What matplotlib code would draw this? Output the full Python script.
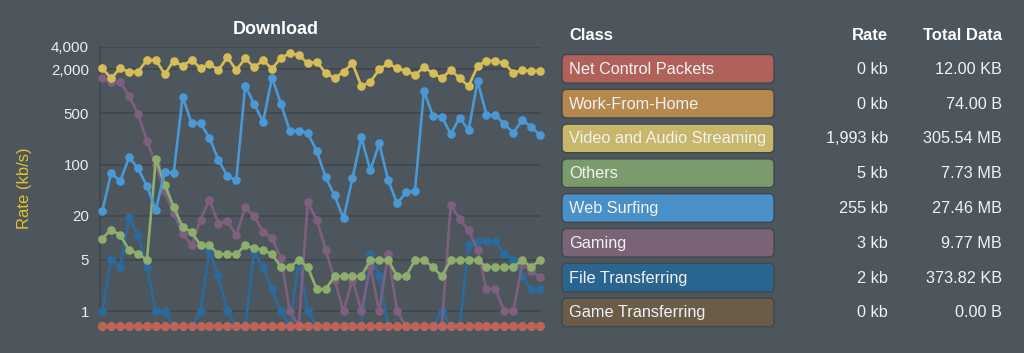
import matplotlib
matplotlib.use("Agg")
import matplotlib.pyplot as plt
from matplotlib.patches import FancyBboxPatch
import numpy as np

plt.rcParams['font.family'] = ['Liberation Sans', 'DejaVu Sans']

# ---------------- data ----------------
classes = ["Net Control Packets", "Work-From-Home", "Video and Audio Streaming",
           "Others", "Web Surfing", "Gaming", "File Transferring", "Game Transferring"]
rates = ["0 kb", "0 kb", "1,993 kb", "5 kb", "255 kb", "3 kb", "2 kb", "0 kb"]
totals = ["12.00 KB", "74.00 B", "305.54 MB", "7.73 MB", "27.46 MB", "9.77 MB",
          "373.82 KB", "0.00 B"]

net_control = [0] * 50
work_from_home = [0] * 50
game_transferring = [0] * 50
video = [2050, 1500, 2050, 1840, 1840, 2650, 2650, 1710, 2600, 2200,
         2700, 2050, 2350, 1940, 2900, 1940, 2800, 2110, 2650, 2020,
         2850, 3280, 3110, 2390, 2520, 1780, 1500, 1840, 2390, 1170,
         1340, 1980, 2390, 2050, 1900, 1660, 2110, 1780, 1500, 1940,
         1500, 1170, 2200, 2600, 2600, 2390, 1780, 1940, 1880, 1900]
web = [23, 77, 59, 125, 89, 51, 24, 80, 77, 840,
       365, 365, 230, 116, 70, 61, 1180, 670, 383, 1530,
       670, 285, 290, 268, 153, 67, 38, 18.4, 65, 234,
       83, 194, 61, 29.5, 41.6, 44, 1020, 457, 450, 260,
       435, 294, 1380, 472, 472, 356, 271, 404, 327, 250]
gaming = [1500, 1340, 1340, 860, 490, 210, 100, 42, 22, 11.2,
          8, 17.8, 33, 15.7, 17, 10.9, 26, 19.8, 12.1, 10,
          5.3, 1.0, 0, 30.4, 17.8, 6.9, 2.7, 1.0, 2.7, 1.0,
          4.0, 1.0, 6.1, 1.0, 0, 0, 0, 0, 0, 28.5,
          18, 12.8, 6.8, 2.0, 2.0, 1.0, 1.0, 4.4, 3.5, 2.9]
others = [9.8, 13, 10.9, 6.9, 6.1, 5.0, 120, 53, 26.5, 14,
          12.1, 7.9, 7.9, 6.0, 6.0, 6.0, 7.9, 7.2, 6.9, 6.0,
          4.0, 4.0, 5.0, 4.0, 2.0, 2.0, 3.0, 3.0, 3.0, 3.0,
          5.0, 5.0, 5.0, 3.0, 3.0, 5.0, 5.0, 4.0, 3.0, 5.0,
          5.0, 5.0, 5.0, 4.0, 4.0, 4.0, 4.0, 5.0, 4.0, 5.0]
file_tr = [1.0, 5.1, 4.0, 19, 11, 4.0, 1.0, 1.0, 0, 0,
           0, 1.0, 6.8, 3.0, 1.0, 0, 0, 6.4, 4.0, 2.0,
           1.0, 0, 5.0, 1.0, 0, 0, 0, 0, 0, 0,
           6.1, 3.0, 0, 0, 0, 0, 0, 0, 1.0, 0,
           0, 7.9, 9.0, 9.0, 9.0, 6.1, 5.0, 3.0, 2.0, 2.0]

yticks = [1, 5, 20, 100, 500, 2000, 4000]
ytick_labels = ["1", "5", "20", "100", "500", "2,000", "4,000"]

# ---------------- style ----------------
BG = "#4c565c"
GRID = "#42494e"
TXT = "#eeeeee"
box_colors = ["#b0615a", "#b5884f", "#c8b66a", "#7b9b6c", "#4a90c8", "#7a6277",
              "#2a6590", "#6b5c4a"]
line_colors = {
    "Net Control Packets": "#c0625a",
    "Work-From-Home": "#c0904f",
    "Video and Audio Streaming": "#d6bd58",
    "Others": "#8fae6c",
    "Web Surfing": "#4a98d4",
    "Gaming": "#7f5f7f",
    "File Transferring": "#2a6b9e",
    "Game Transferring": "#6b5c4a",
}

fig = plt.figure(figsize=(10.24, 3.53), dpi=100, facecolor=BG)

W, H = 1024, 353
ax = fig.add_axes([100 / W, (H - 333) / H, (541 - 100) / W, (333 - 47) / H])
ax.set_facecolor(BG)
ax.set_yscale('symlog', linthresh=1, linscale=0.184)

x = np.arange(50)
series = [
    ("Game Transferring", game_transferring),
    ("File Transferring", file_tr),
    ("Gaming", gaming),
    ("Others", others),
    ("Web Surfing", web),
    ("Video and Audio Streaming", video),
    ("Work-From-Home", work_from_home),
    ("Net Control Packets", net_control),
]
for z, (name, vals) in enumerate(series):
    c = line_colors[name]
    ax.plot(x, vals, color=c, lw=1.9, marker='o', ms=5.2, mec=c, mfc=c,
            zorder=3 + z, clip_on=False, solid_joinstyle='round')

ax.set_xlim(-0.25, 49.1)
ax.set_ylim(-0.45, 4000)
ax.set_yticks(yticks)
ax.set_yticklabels(ytick_labels)
ax.yaxis.set_minor_locator(matplotlib.ticker.NullLocator())
ax.set_xticks([])
ax.tick_params(axis='y', length=0, pad=8, labelsize=10.8, labelcolor=TXT)
ax.grid(axis='y', color=GRID, lw=1.3)
ax.set_axisbelow(True)
for s in ['top', 'right', 'bottom']:
    ax.spines[s].set_visible(False)
ax.spines['left'].set_color(GRID)
ax.spines['left'].set_linewidth(1.3)
ax.spines['left'].set_bounds(0.8, 4000)

fig.text(276 / W, 1 - 30 / H, "Download", ha='center', va='center',
         fontsize=13, fontweight='bold', color='white')
fig.text(25 / W, 1 - 188 / H, "Rate (kb/s)", rotation=90, ha='center', va='center',
         fontsize=12, color='#e2c030')

# ---------------- table ----------------
tab = fig.add_axes([0, 0, 1, 1])
tab.set_xlim(0, W)
tab.set_ylim(H, 0)
tab.axis('off')
tab.patch.set_alpha(0)

tab.text(569, 35, "Class", ha='left', va='center', fontsize=12, fontweight='bold', color='white')
tab.text(888, 35, "Rate", ha='right', va='center', fontsize=12, fontweight='bold', color='white')
tab.text(1002, 35, "Total Data", ha='right', va='center', fontsize=12, fontweight='bold', color='white')

for i, (cls, r, t, bc) in enumerate(zip(classes, rates, totals, box_colors)):
    yc = 68.8 + 34.8 * i
    box = FancyBboxPatch((562, yc - 14.3), 212, 28.6,
                         boxstyle="round,pad=0,rounding_size=5",
                         facecolor=bc, edgecolor="#3f474c", lw=1.0)
    tab.add_patch(box)
    tab.text(569, yc + 0.5, cls, ha='left', va='center', fontsize=11.7, color='#f2f2f2')
    tab.text(888, yc + 0.5, r, ha='right', va='center', fontsize=11.7, color='#f2f2f2')
    tab.text(1002, yc + 0.5, t, ha='right', va='center', fontsize=11.7, color='#f2f2f2')

fig.savefig("out.png", dpi=100, facecolor=BG)
